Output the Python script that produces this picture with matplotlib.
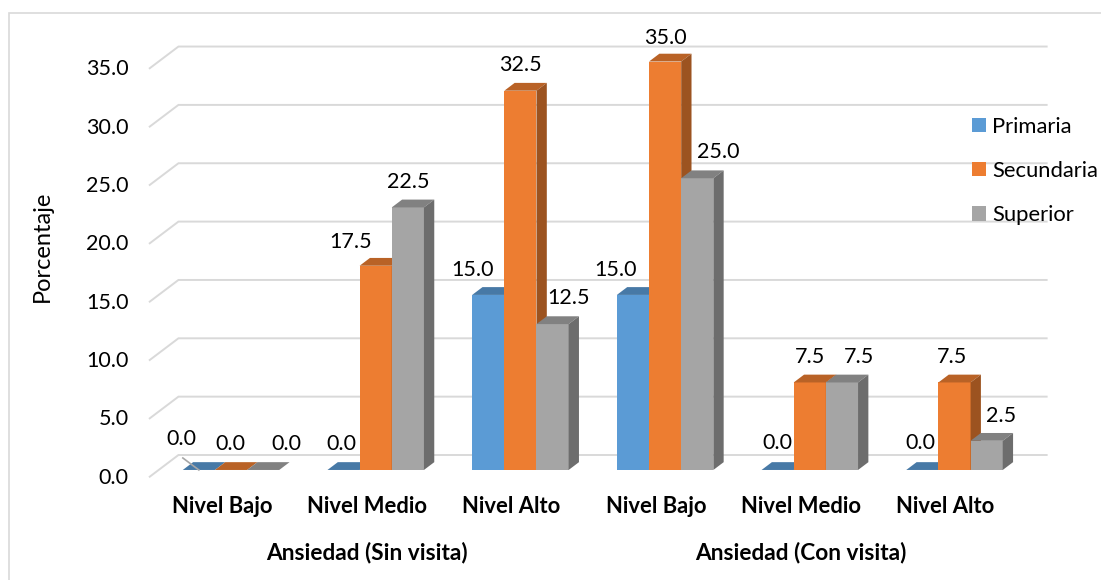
import numpy as np
import matplotlib
matplotlib.use("Agg")
import matplotlib.pyplot as plt
import matplotlib.colors as mcolors
from matplotlib import transforms as mtransforms
from matplotlib.patches import Polygon, Rectangle, Patch

plt.rcParams['font.family'] = ['Lato', 'DejaVu Sans']

categorias = ["Nivel Bajo", "Nivel Medio", "Nivel Alto",
              "Nivel Bajo", "Nivel Medio", "Nivel Alto"]
grupos = ["Ansiedad (Sin visita)", "Ansiedad (Con visita)"]
series = ["Primaria", "Secundaria", "Superior"]
primaria = [0.0, 0.0, 15.0, 15.0, 0.0, 0.0]
secundaria = [0.0, 17.5, 32.5, 35.0, 7.5, 7.5]
superior = [0.0, 22.5, 12.5, 25.0, 7.5, 2.5]
yticks = [0, 5, 10, 15, 20, 25, 30, 35]

colores = ["#5B9BD5", "#ED7D31", "#A5A5A5"]
grid_color = "#D9D9D9"

# pixel scale of the canvas
PX_X = 144.7   # pixels per category
PX_Y = 11.67   # pixels per percentage point
DX = 28.7 / PX_X   # depth of the 3d box (front plane -> back wall)
DY = 21.7 / PX_Y
F0, F1 = 0.31, 0.67   # bar depth inside the box
W = 1 / 4.5           # bar width (gap width 150%)

# label nudges in pixels (x, y) relative to the top of each bar
nudges = [
    [(-17, 31), (-2, 26), (-16, 25), (-17, 25), (0, 27), (-2, 27)],
    [(-1, 26), (-25, 24), (0, 26), (0, 24), (0, 25), (-2, 25)],
    [(23, 26), (0, 25), (16, 26), (21, 26), (17, 25), (14, 25)],
]

fig = plt.figure(figsize=(11.01, 5.80), dpi=100)
ax = fig.add_axes([0, 0, 1, 1])
ax.axis('off')
ax.set_xlim(-222.1 / PX_X, (1101 - 222.1) / PX_X)
ax.set_ylim(-(580 - 476.7) / PX_Y, 476.7 / PX_Y)


def proj(x, v, f):
    return (x + f * DX, v + f * DY)


def shade(c, k):
    return tuple(np.array(mcolors.to_rgb(c)) * k)


def off(dx, dy):
    return mtransforms.offset_copy(ax.transData, fig=fig, x=dx, y=dy, units='dots')


# back wall gridlines with the slanted side wall
for v in yticks:
    x0, y0 = proj(-0.5, v, 0)
    x1, y1 = proj(-0.5, v, 1)
    x2, y2 = proj(5.5, v, 1)
    ax.plot([x0, x1, x2], [y0, y1, y2], color=grid_color, lw=1.4,
            solid_joinstyle='miter', zorder=1)
    ax.text(-0.5, v, f"{v:.1f}", transform=off(-21, -1), ha='right',
            va='center', fontsize=15.5, color='black')

valores = [primaria, secundaria, superior]
for i in range(len(categorias)):
    for k, vals in enumerate(valores):
        h = vals[i]
        xl = i + (k - 1.5) * W
        xr = xl + W
        c = colores[k]
        front = [proj(xl, 0, F0), proj(xr, 0, F0), proj(xr, h, F0), proj(xl, h, F0)]
        top = [proj(xl, h, F0), proj(xr, h, F0), proj(xr, h, F1), proj(xl, h, F1)]
        side = [proj(xr, 0, F0), proj(xr, 0, F1), proj(xr, h, F1), proj(xr, h, F0)]
        ax.add_patch(Polygon(front, closed=True, fc=c, ec='none', zorder=3))
        ax.add_patch(Polygon(top, closed=True, fc=shade(c, 0.78), ec='none', zorder=3))
        ax.add_patch(Polygon(side, closed=True, fc=shade(c, 0.66), ec='none', zorder=3))
        xc, yc = proj(xl + W / 2, h, F0)
        nx, ny = nudges[k][i]
        ax.text(xc, yc, f"{h:.1f}", transform=off(nx, ny), ha='center',
                va='center', fontsize=15.5, color='black', zorder=5)
        if i == 0 and k == 0:
            # leader line from the displaced label
            p0 = ax.transData.transform((xc, yc))
            p1 = p0 + np.array([-16, 12])
            q = ax.transData.inverted().transform([p0, p1])
            ax.plot(q[:, 0], q[:, 1], color='#A6A6A6', lw=1.2, zorder=4)

for i, cat in enumerate(categorias):
    ax.text(i, 0, cat, transform=off(0, -30), ha='center', va='center',
            fontsize=15.8, fontweight='bold', color='black')
for j, g in enumerate(grupos):
    ax.text(1 + 3 * j, 0, g, transform=off(0, -76), ha='center', va='center',
            fontsize=16.3, fontweight='bold', color='black')

fig.text(42 / 1101, 1 - 246 / 580, "Porcentaje", rotation=90, ha='center',
         va='center', fontsize=17, color='black')

handles = [Patch(facecolor=c, edgecolor='none') for c in colores]
fig.legend(handles, series, loc='center left',
           bbox_to_anchor=(972 / 1101, 1 - 171 / 580), frameon=False,
           fontsize=15.8, handlelength=0.62, handleheight=0.62,
           handletextpad=0.3, labelspacing=1.1, borderpad=0, borderaxespad=0)

# chart area border
fig.patches.append(Rectangle((9 / 1101, -0.05), 1.2, 567 / 580 + 0.05,
                             transform=fig.transFigure, fill=False,
                             ec=grid_color, lw=1.2))

fig.savefig("out.png", dpi=100)
